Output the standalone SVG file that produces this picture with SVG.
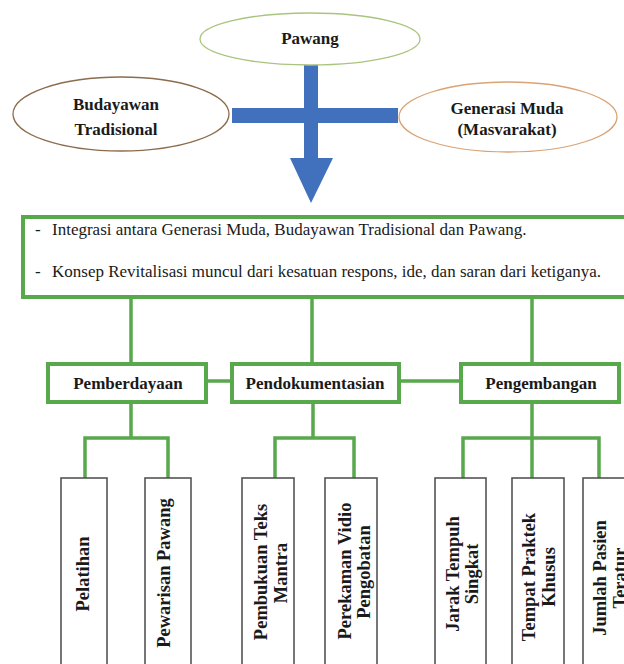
<svg xmlns="http://www.w3.org/2000/svg" width="624" height="664" viewBox="0 0 624 664">
<style>
.lbl{font-family:"Liberation Serif","Times New Roman",serif;font-weight:bold;font-size:17px;fill:#1a1a1a;text-anchor:middle}
.vt{font-family:"Liberation Serif","Times New Roman",serif;font-weight:bold;font-size:18.5px;fill:#1a1a1a;text-anchor:middle}
.body{font-family:"Liberation Serif","Times New Roman",serif;font-size:17px;fill:#1a1a1a}
.gbox{fill:#fff;stroke:#58a84c;stroke-width:4}
.cbox{fill:#fff;stroke:#4a4a4a;stroke-width:1.5}
.gl{fill:none;stroke:#58a84c;stroke-width:3.5}
.blue{fill:#4170bd}
</style>
<rect width="624" height="664" fill="#fff"/>
<g id="connectors">
<rect class="blue" x="232" y="108" width="166" height="15"/>
<rect class="blue" x="304" y="64" width="14" height="95"/>
<polygon class="blue" points="290,158 333,158 311,203"/>
<path class="gl" d="M131 297V364M312 297V364M532 297V364M206 381H232M399 381H461M131 402V438M85 478V438H168V478M313 402V438M275 478V438H354V478M532 402V478M463 478V438H599V478"/>
</g>
<g id="pawang">
<ellipse cx="310" cy="39" rx="110" ry="26" fill="#fff" stroke="#a9c47f" stroke-width="1.3"/>
<text class="lbl" x="310" y="44">Pawang</text>
</g>
<g id="budayawan">
<ellipse cx="121" cy="114" rx="108" ry="37" fill="#fff" stroke="#8c6c4c" stroke-width="1.3"/>
<text class="lbl" x="116" y="110">Budayawan</text>
<text class="lbl" x="116" y="135">Tradisional</text>
</g>
<g id="generasi">
<ellipse cx="508" cy="117" rx="109" ry="35" fill="#fff" stroke="#d9a474" stroke-width="1.3"/>
<text class="lbl" x="507" y="114">Generasi Muda</text>
<text class="lbl" x="507" y="135">(Masvarakat)</text>
</g>
<g id="integrasi">
<rect class="gbox" x="23" y="217" width="612" height="80"/>
<text class="body" x="35" y="235">-</text>
<text class="body" x="52" y="235">Integrasi antara Generasi Muda, Budayawan Tradisional dan Pawang.</text>
<text class="body" x="35" y="277">-</text>
<text class="body" x="52" y="277">Konsep Revitalisasi muncul dari kesatuan respons, ide, dan saran dari ketiganya.</text>
</g>
<g id="pemberdayaan">
<rect class="gbox" x="48" y="364" width="158" height="38"/>
<text class="lbl" x="128" y="389">Pemberdayaan</text>
</g>
<g id="pendokumentasian">
<rect class="gbox" x="232" y="364" width="167" height="38"/>
<text class="lbl" x="315" y="389">Pendokumentasian</text>
</g>
<g id="pengembangan">
<rect class="gbox" x="461" y="364" width="158" height="38"/>
<text class="lbl" x="541" y="389">Pengembangan</text>
</g>
<g id="pelatihan">
<rect class="cbox" x="61" y="478" width="46" height="192"/>
<text class="vt" transform="translate(89 574) rotate(-90)">Pelatihan</text>
</g>
<g id="pewarisan">
<rect class="cbox" x="145" y="478" width="46" height="192"/>
<text class="vt" transform="translate(170 573) rotate(-90)">Pewarisan Pawang</text>
</g>
<g id="pembukuan">
<rect class="cbox" x="242" y="478" width="52" height="192"/>
<text class="vt" transform="translate(267 572) rotate(-90)">Pembukuan Teks</text>
<text class="vt" transform="translate(287 573) rotate(-90)">Mantra</text>
</g>
<g id="perekaman">
<rect class="cbox" x="325" y="478" width="52" height="192"/>
<text class="vt" transform="translate(351 571) rotate(-90)">Perekaman Vidio</text>
<text class="vt" transform="translate(370 572) rotate(-90)">Pengobatan</text>
</g>
<g id="jarak">
<rect class="cbox" x="435" y="478" width="51" height="192"/>
<text class="vt" transform="translate(459 574) rotate(-90)">Jarak Tempuh</text>
<text class="vt" transform="translate(478 574) rotate(-90)">Singkat</text>
</g>
<g id="tempat">
<rect class="cbox" x="512" y="478" width="52" height="192"/>
<text class="vt" transform="translate(535 577) rotate(-90)">Tempat Praktek</text>
<text class="vt" transform="translate(555 577) rotate(-90)">Khusus</text>
</g>
<g id="jumlah">
<rect class="cbox" x="583" y="478" width="52" height="192"/>
<text class="vt" transform="translate(606 578) rotate(-90)">Jumlah Pasien</text>
<text class="vt" transform="translate(626 578) rotate(-90)">Teratur</text>
</g>
</svg>
